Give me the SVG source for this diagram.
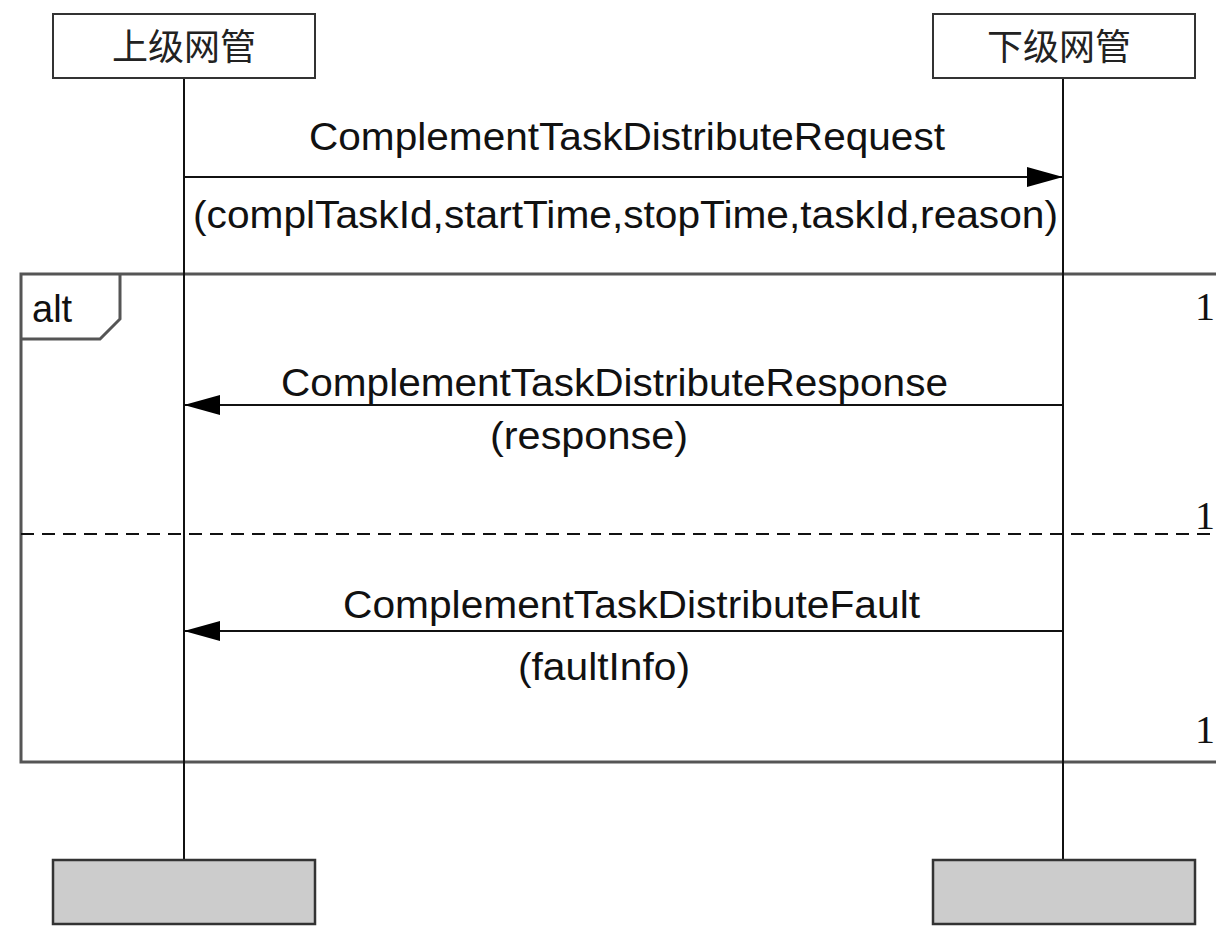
<svg xmlns="http://www.w3.org/2000/svg" width="1216" height="930" viewBox="0 0 1216 930">
<style>
.head{fill:#fff;stroke:#333;stroke-width:2}
.foot{fill:#ccc;stroke:#333;stroke-width:2.5}
.life{stroke:#111;stroke-width:2;fill:none}
.msg{stroke:#111;stroke-width:2;fill:none}
.frame{stroke:#555;stroke-width:3;fill:none}
.t{font-family:"Liberation Sans",Arial,sans-serif;font-size:38px;fill:#111}
.cjk{font-family:"Noto Sans CJK SC","Noto Sans CJK JP",sans-serif;font-size:36px;fill:#222}
.num{font-family:"Liberation Serif","Times New Roman",serif;font-size:40px;fill:#111}
</style>
<defs>
<marker id="arr" viewBox="0 0 36 20" refX="36" refY="10" markerWidth="36" markerHeight="20" markerUnits="userSpaceOnUse" orient="auto">
<path d="M0,0 L36,10 L0,20 Z" fill="#000"/>
</marker>
</defs>
<g id="frame-alt">
<rect class="frame" x="21" y="274" width="1220" height="488"/>
<path class="frame" d="M21,339 L100,339 L120,319 L120,274"/>
<text class="t" x="32" y="322">alt</text>
<line x1="21" y1="534" x2="1216" y2="534" stroke="#111" stroke-width="2" stroke-dasharray="13,8"/>
<text class="num" x="1195" y="320">1</text>
<text class="num" x="1195" y="529">1</text>
<text class="num" x="1195" y="743">1</text>
</g>
<g id="connectors">
<line class="life" x1="184" y1="79" x2="184" y2="860"/>
<line class="life" x1="1063" y1="79" x2="1063" y2="860"/>
<line class="msg" x1="184" y1="177" x2="1063" y2="177" marker-end="url(#arr)"/>
<line class="msg" x1="1063" y1="405" x2="184" y2="405" marker-end="url(#arr)"/>
<line class="msg" x1="1063" y1="631" x2="184" y2="631" marker-end="url(#arr)"/>
<text class="t" x="309" y="150" textLength="636" lengthAdjust="spacingAndGlyphs">ComplementTaskDistributeRequest</text>
<text class="t" x="193" y="228" textLength="865" lengthAdjust="spacingAndGlyphs">(complTaskId,startTime,stopTime,taskId,reason)</text>
<text class="t" x="281" y="396" textLength="667" lengthAdjust="spacingAndGlyphs">ComplementTaskDistributeResponse</text>
<text class="t" x="490" y="449" textLength="198" lengthAdjust="spacingAndGlyphs">(response)</text>
<text class="t" x="343" y="618" textLength="577" lengthAdjust="spacingAndGlyphs">ComplementTaskDistributeFault</text>
<text class="t" x="518" y="680" textLength="172" lengthAdjust="spacingAndGlyphs">(faultInfo)</text>
</g>
<g id="node-upper">
<rect class="head" x="53" y="14" width="262" height="64"/>
<text class="cjk" x="184" y="60" text-anchor="middle">上级网管</text>
</g>
<g id="node-lower">
<rect class="head" x="933" y="14" width="262" height="64"/>
<text class="cjk" x="1059" y="60" text-anchor="middle">下级网管</text>
</g>
<g id="node-upper-end">
<rect class="foot" x="53" y="860" width="262" height="64"/>
</g>
<g id="node-lower-end">
<rect class="foot" x="933" y="860" width="262" height="64"/>
</g>
</svg>
